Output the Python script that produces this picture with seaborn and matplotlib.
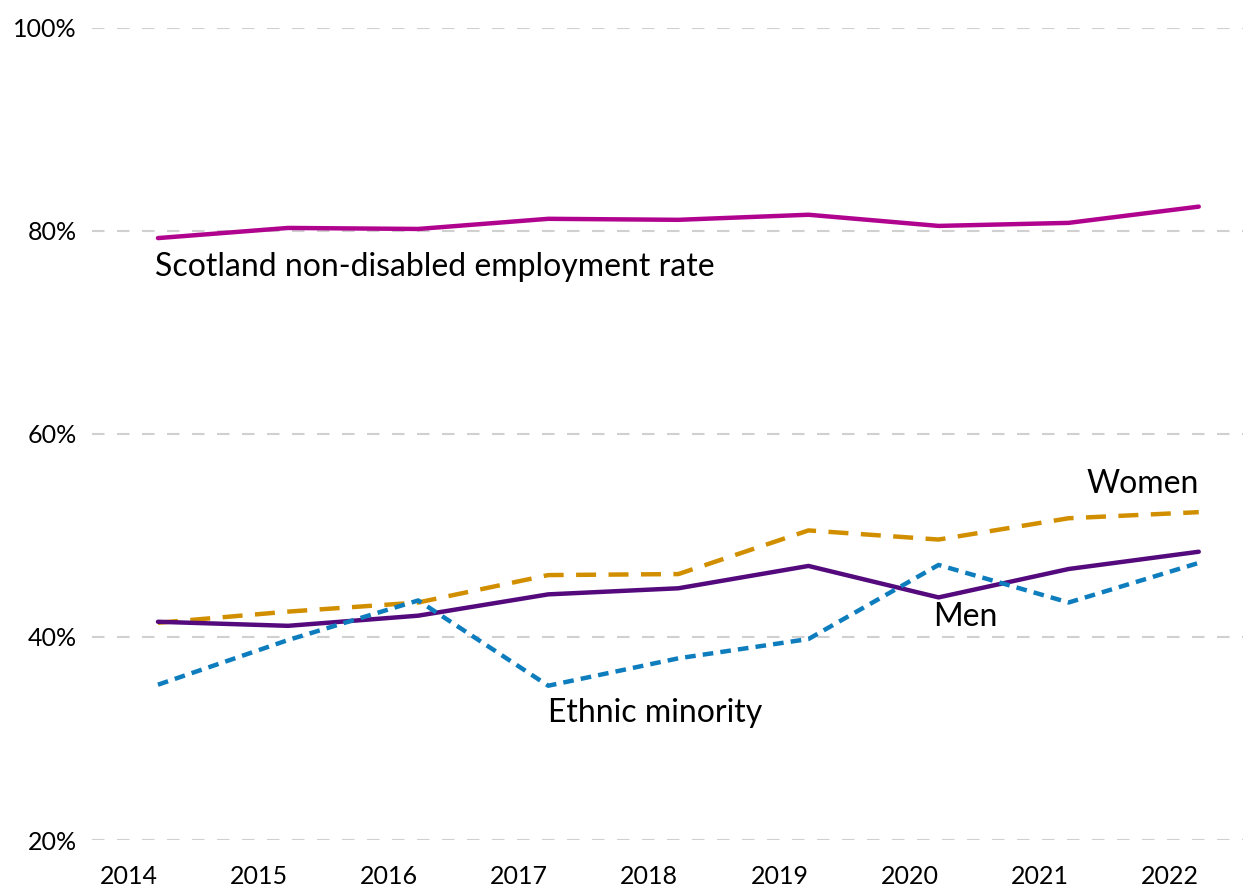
import numpy as np
import pandas as pd
import seaborn as sns
import matplotlib.pyplot as plt

# data (employment rate, %)
years = ['2014', '2015', '2016', '2017', '2018', '2019', '2020', '2021', '2022']
scotland = [79.3, 80.3, 80.2, 81.2, 81.1, 81.6, 80.5, 80.8, 82.4]
women = [41.4, 42.5, 43.4, 46.1, 46.2, 50.5, 49.6, 51.7, 52.3]
men = [41.5, 41.1, 42.1, 44.2, 44.8, 47.0, 43.9, 46.7, 48.4]
ethnic = [35.3, 39.7, 43.6, 35.2, 37.9, 39.8, 47.1, 43.4, 47.3]

sns.set_style('white')
plt.rcParams['font.family'] = ['Lato', 'DejaVu Sans']

x = np.arange(len(years))
df = pd.DataFrame({'x': x, 'scotland': scotland, 'women': women,
                   'men': men, 'ethnic': ethnic})

fig = plt.figure(figsize=(12.5, 8.94), dpi=100)
ax = fig.add_axes([0.0736, 0.0604, 0.9208, 0.9083])

# gridlines first so lines sit on top
for v in [20, 40, 60, 80, 100]:
    ax.axhline(v, color='#d0d0d0', lw=1.5, dashes=(6, 6), zorder=0)

sns.lineplot(data=df, x='x', y='scotland', color='#b0048f', lw=3.2, ax=ax)
sns.lineplot(data=df, x='x', y='women', color='#d18f00', lw=3.2, ax=ax,
             dashes=False).lines[-1].set_dashes((4.5, 2.8))
sns.lineplot(data=df, x='x', y='men', color='#540a7c', lw=3.2, ax=ax)
sns.lineplot(data=df, x='x', y='ethnic', color='#0e7dbe', lw=3.2, ax=ax,
             dashes=False).lines[-1].set_dashes((2.4, 1.6))

ax.set_xlim(-0.507, 8.34)
ax.set_ylim(20, 100)
ax.set_yticks([20, 40, 60, 80, 100])
ax.set_yticklabels(['20%', '40%', '60%', '80%', '100%'])
ax.set_xticks(x)
ax.set_xticklabels(years, ha='right')
ax.tick_params(axis='y', length=0, pad=11, labelsize=18, labelcolor='black')
ax.tick_params(axis='x', length=0, pad=18, labelsize=18, labelcolor='black')
ax.set_xlabel('')
ax.set_ylabel('')
for s in ax.spines.values():
    s.set_visible(False)

# direct labels
ax.text(-0.02, 76.5, 'Scotland non-disabled employment rate', fontsize=23,
        ha='left', va='center', color='black')
ax.text(8.0, 55.1, 'Women', fontsize=23, ha='right', va='center', color='black')
ax.text(5.96, 42.0, 'Men', fontsize=23, ha='left', va='center', color='black')
ax.text(3.0, 32.5, 'Ethnic minority', fontsize=23, ha='left', va='center',
        color='black')

plt.savefig('out.png', dpi=100)
